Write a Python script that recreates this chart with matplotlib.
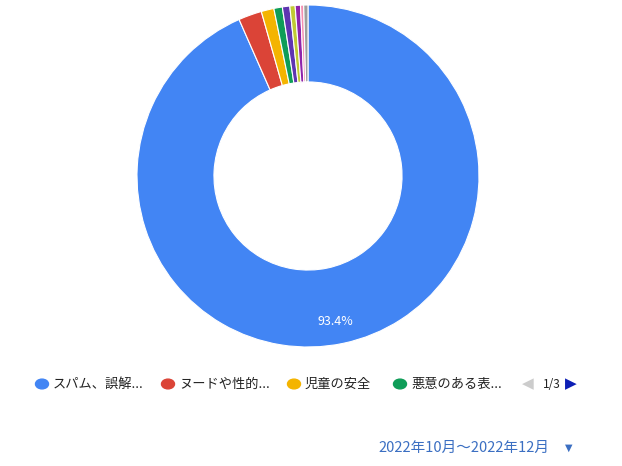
import matplotlib.pyplot as plt
from matplotlib.patches import Circle

plt.rcParams['font.family'] = ['Noto Sans CJK JP', 'DejaVu Sans']

labels = ["スパム、誤解...", "ヌードや性的...", "児童の安全", "悪意のある表...",
          "その他1", "その他2", "その他3", "その他4", "その他5"]
shares = [93.4, 2.2, 1.2, 0.8, 0.7, 0.5, 0.5, 0.3, 0.4]
colors = ["#4285f4", "#db4437", "#f4b400", "#0f9d58", "#5e35b1",
          "#c0ca33", "#8e24aa", "#f48fb1", "#9e9e9e"]

fig = plt.figure(figsize=(6.22, 4.66), dpi=100)
W, H = 622, 466
cx, cy, r = 308, 176, 171
ax = fig.add_axes([(cx - r) / W, (H - cy - r) / H, 2 * r / W, 2 * r / H])
ax.pie(shares, colors=colors, startangle=90, counterclock=False,
       wedgeprops=dict(width=0.45, edgecolor="white", linewidth=0.8))
ax.set_xlim(-1, 1)
ax.set_ylim(-1, 1)
ax.set_aspect("equal")
ax.text(0.16, -0.85, "93.4%", color="white", fontsize=9, ha="center", va="center")

# legend row
y = 1 - 384 / H
items = [(42, 0), (168, 1), (294, 2), (400, 3)]
for x, i in items:
    fig.patches.append(Circle((x / W, y), 6.5 / W, transform=fig.transFigure,
                              color=colors[i]))
    fig.text((x + 11) / W, y, labels[i], fontsize=9.5, va="center", color="#222222")
fig.text(522 / W, y, "◀", fontsize=11, va="center", color="#cccccc", family="DejaVu Sans")
fig.text(543 / W, y, "1/3", fontsize=8.5, va="center", color="#222222")
fig.text(565 / W, y, "▶", fontsize=11, va="center", color="#0d1fb5", family="DejaVu Sans")

fig.text(378 / W, 1 - 448 / H, "2022年10月～2022年12月", fontsize=10.5,
         va="center", color="#3b6fc2")
fig.text(565 / W, 1 - 448 / H, "▼", fontsize=7, va="center", color="#3b6fc2",
         family="DejaVu Sans")

fig.savefig("out.png", dpi=100)
